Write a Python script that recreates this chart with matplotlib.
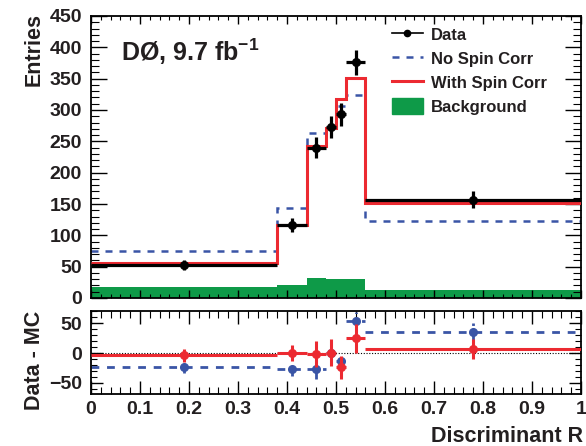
import numpy as np
import matplotlib
matplotlib.use("Agg")
import matplotlib.pyplot as plt
from matplotlib.lines import Line2D
from matplotlib.patches import Patch
from matplotlib.ticker import MultipleLocator, FuncFormatter

plt.rcParams['font.family'] = ['Liberation Sans', 'DejaVu Sans']
plt.rcParams['font.weight'] = 'bold'
plt.rcParams['mathtext.fontset'] = 'custom'
plt.rcParams['mathtext.rm'] = 'Liberation Sans:bold'
plt.rcParams['mathtext.bf'] = 'Liberation Sans:bold'
plt.rcParams['mathtext.it'] = 'Liberation Sans:bold'

# ---- data ----
bin_edges = [0.0, 0.38, 0.44, 0.48, 0.50, 0.52, 0.56, 1.0]
data_vals = [52, 117, 240, 273, 293, 376, 157]
data_errs = [8, 11, 17, 18, 18, 20, 13]
no_spin = [75, 143, 264, 272, 306, 324, 123]
with_spin = [56, 117, 242, 272, 317, 351, 151]
background = [17, 21, 32, 31, 31, 31, 13]

diff_with = [-4, 0, -2, 1, -24, 25, 7]
diff_with_err = [11, 14, 22, 22, 19, 24, 17]
diff_no = [-24, -26, -26, 1, -13, 54, 35]
diff_no_err = [10, 13, 17, 20, 8, 14, 15]

xticks = [0, 0.1, 0.2, 0.3, 0.4, 0.5, 0.6, 0.7, 0.8, 0.9, 1.0]

RED = '#EC2A31'
BLUE = '#3A55A6'
GREEN = '#0E9A48'
TXT = '#231F20'

edges = np.array(bin_edges)
centers = 0.5 * (edges[:-1] + edges[1:])
halfw = 0.5 * (edges[1:] - edges[:-1])

fig = plt.figure(figsize=(5.86, 4.46), dpi=100)
W, H = 586.0, 446.0
ax1 = fig.add_axes([91 / W, 1 - 298 / H, 490 / W, 282 / H])
ax2 = fig.add_axes([91 / W, 1 - 394 / H, 490 / W, 83 / H])

# ---- top panel ----
ax1.stairs(background, edges, fill=True, color=GREEN, baseline=0, zorder=1)
ax1.stairs(no_spin, edges, baseline=None, color=BLUE, lw=1.8,
           linestyle=(0, (2.8, 2.8)), zorder=2)
ax1.stairs(with_spin, edges, baseline=None, color=RED, lw=2.2, zorder=3)
ax1.errorbar(centers, data_vals, xerr=halfw, yerr=data_errs, fmt='o',
             color='black', ms=5.5, elinewidth=2.3, capsize=0, zorder=4)

ax1.set_xlim(0, 1)
ax1.set_ylim(0, 450)
ax1.set_xticks(xticks)
ax1.xaxis.set_minor_locator(MultipleLocator(0.02))
ax1.yaxis.set_major_locator(MultipleLocator(50))
ax1.yaxis.set_minor_locator(MultipleLocator(10))
ax1.tick_params(axis='both', which='both', direction='in', top=True, right=True,
                colors='black', labelcolor=TXT)
ax1.tick_params(axis='x', which='major', length=6, width=1, labelbottom=False)
ax1.tick_params(axis='x', which='minor', length=3, width=0.8)
ax1.tick_params(axis='y', which='major', length=11.5, width=1, labelsize=14, pad=6.5)
ax1.tick_params(axis='y', which='minor', length=5.8, width=0.8)
for lab in ax1.get_yticklabels():
    lab.set_fontweight('bold')
ax1.set_ylabel('Entries', fontsize=15.5, fontweight='bold', loc='top', color=TXT)
ax1.yaxis.set_label_coords(-0.094, 1.01)

handles = [
    Line2D([], [], color='black', marker='o', ms=4.5, lw=1.2),
    Line2D([], [], color=BLUE, lw=1.8, linestyle=(0, (2.8, 2.8))),
    Line2D([], [], color=RED, lw=2.2),
    Patch(facecolor=GREEN, edgecolor=GREEN),
]
labels = ['Data', 'No Spin Corr', 'With Spin Corr', 'Background']
leg = ax1.legend(handles, labels, loc='upper left',
                 bbox_to_anchor=(392 / W, 1 - 26 / H), bbox_transform=fig.transFigure,
                 frameon=False, fontsize=12, handlelength=1.85, handleheight=1.1,
                 handletextpad=0.5, labelspacing=0.45, borderpad=0, borderaxespad=0)
for t in leg.get_texts():
    t.set_fontweight('bold')
    t.set_color(TXT)

fig.text(121 / W, 1 - 61 / H, r'DØ, 9.7 fb$^{-1}$', fontsize=18,
         fontweight='bold', color=TXT, va='baseline', ha='left')

# ---- bottom panel ----
ax2.axhline(0, color='black', lw=0.8, linestyle=(0, (1, 1.5)), zorder=1)
eb = ax2.errorbar(centers, diff_no, xerr=halfw, yerr=diff_no_err, fmt='o',
                  color=BLUE, ms=5.5, elinewidth=2.0, capsize=0, zorder=2)
for c in eb[2]:
    c.set_linestyle((0, (2.8, 2.8)))
ax2.errorbar(centers, diff_with, xerr=halfw, yerr=diff_with_err, fmt='o',
             color=RED, ms=5.5, elinewidth=2.2, capsize=0, zorder=3)

ax2.set_xlim(0, 1)
ax2.set_ylim(-68.5, 70.5)
ax2.set_xticks(xticks)
ax2.xaxis.set_major_formatter(FuncFormatter(lambda v, p: f"{v:g}"))
ax2.xaxis.set_minor_locator(MultipleLocator(0.02))
ax2.yaxis.set_major_locator(MultipleLocator(50))
ax2.yaxis.set_minor_locator(MultipleLocator(10))
ax2.tick_params(axis='both', which='both', direction='in', top=True, right=True,
                colors='black', labelcolor=TXT)
ax2.tick_params(axis='x', which='major', length=9.4, width=1, labelsize=14, pad=5)
ax2.tick_params(axis='x', which='minor', length=4.7, width=0.8)
ax2.tick_params(axis='y', which='major', length=8.6, width=1, labelsize=14, pad=6.5)
ax2.tick_params(axis='y', which='minor', length=4.3, width=0.8)
for lab in ax2.get_xticklabels() + ax2.get_yticklabels():
    lab.set_fontweight('bold')
ax2.set_ylabel('Data - MC', fontsize=15.5, fontweight='bold', loc='top', color=TXT)
ax2.yaxis.set_label_coords(-0.094, 1.0)
ax2.set_xlabel('Discriminant R', fontsize=15.5, fontweight='bold', loc='right', color=TXT)
ax2.xaxis.set_label_coords(1.005, -0.38)

for ax in (ax1, ax2):
    for s in ax.spines.values():
        s.set_linewidth(1.3)
        s.set_color('black')

fig.savefig('out.png', dpi=100)
